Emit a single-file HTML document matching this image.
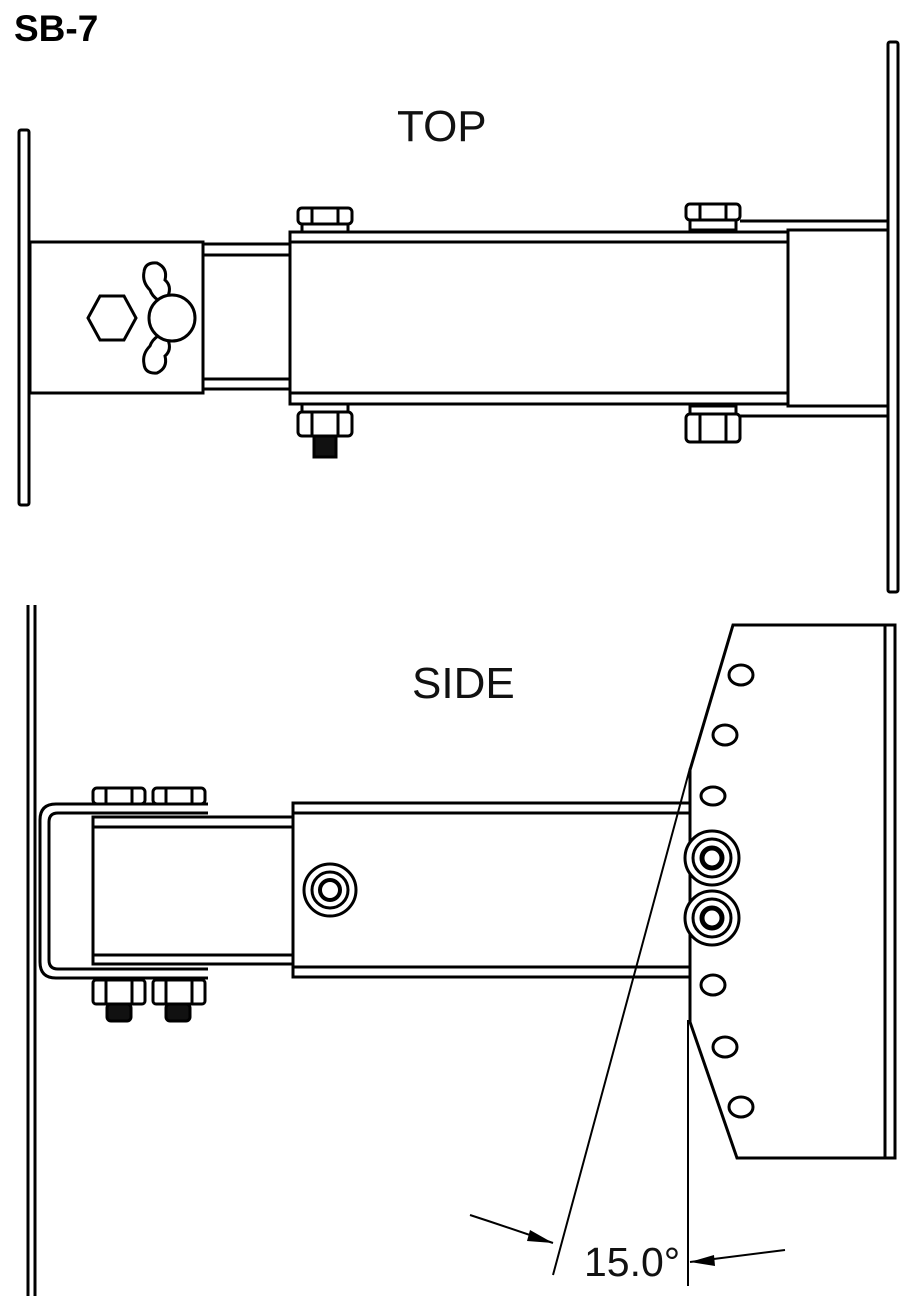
<!DOCTYPE html>
<html><head><meta charset="utf-8"><style>
html,body{margin:0;padding:0;background:#fff;width:921px;height:1296px;overflow:hidden}
svg{display:block}
</style></head><body>
<svg width="921" height="1296" viewBox="0 0 921 1296" xmlns="http://www.w3.org/2000/svg">
<g fill="#fff" stroke="#000" stroke-width="3">
<text x="14" y="41" font-family="Liberation Sans, sans-serif" font-weight="bold" font-size="37" fill="#000" stroke="none">SB-7</text>
<text x="397" y="141" font-family="Liberation Sans, sans-serif" font-size="44" fill="#111" stroke="none">TOP</text>
<text x="412" y="698" font-family="Liberation Sans, sans-serif" font-size="44" fill="#111" stroke="none">SIDE</text>

<!-- TOP VIEW -->
<rect x="19" y="130" width="10" height="375" rx="2"/>
<rect x="30" y="242" width="173" height="151"/>
<line x1="203" y1="244" x2="290" y2="244"/>
<line x1="203" y1="255" x2="290" y2="255"/>
<line x1="203" y1="379" x2="290" y2="379"/>
<line x1="203" y1="389" x2="290" y2="389"/>
<!-- hex & wing nut -->
<polygon points="88,318 100,296 124,296 136,318 124,340 100,340"/>
<path d="M168,296 Q172,286 165,280 Q168,268 157,263 Q145,262 144,272 Q142,282 150,290 Q152,296 158,300 Z"/>
<path d="M168,340 Q172,350 165,356 Q168,368 157,373 Q145,374 144,364 Q142,354 150,346 Q152,340 158,336 Z"/>
<circle cx="172" cy="318" r="23"/>
<!-- main tube -->
<rect x="290" y="232" width="498" height="172"/>
<line x1="290" y1="242" x2="788" y2="242"/>
<line x1="290" y1="393" x2="788" y2="393"/>
<rect x="788" y="230" width="100" height="176"/>
<rect x="888" y="42" width="10" height="550" rx="2"/>
<line x1="740" y1="221" x2="888" y2="221"/>
<line x1="740" y1="416" x2="888" y2="416"/>
<!-- bolts top -->
<rect x="298" y="208" width="54" height="16" rx="4"/><line x1="312" y1="208" x2="312" y2="224"/><line x1="338" y1="208" x2="338" y2="224"/>
<rect x="302" y="224" width="46" height="8"/>
<rect x="686" y="204" width="54" height="16" rx="4"/><line x1="700" y1="204" x2="700" y2="220"/><line x1="726" y1="204" x2="726" y2="220"/>
<rect x="690" y="220" width="46" height="10"/>
<rect x="302" y="404" width="46" height="8"/>
<rect x="298" y="412" width="54" height="24" rx="4"/><line x1="312" y1="412" x2="312" y2="436"/><line x1="338" y1="412" x2="338" y2="436"/>
<rect x="314" y="436" width="22" height="21" fill="#111"/>
<rect x="690" y="406" width="46" height="8"/>
<rect x="686" y="414" width="54" height="28" rx="4"/><line x1="700" y1="414" x2="700" y2="442"/><line x1="726" y1="414" x2="726" y2="442"/>

<!-- SIDE VIEW -->
<line x1="28" y1="605" x2="28" y2="1296"/>
<line x1="35" y1="605" x2="35" y2="1296"/>
<path d="M208,804 L56,804 Q40,804 40,820 L40,962 Q40,978 56,978 L208,978" fill="none"/>
<path d="M208,813 L58,813 Q49,813 49,822 L49,960 Q49,969 58,969 L208,969" fill="none"/>
<rect x="93" y="817" width="200" height="147"/>
<line x1="93" y1="827" x2="293" y2="827"/>
<line x1="93" y1="955" x2="293" y2="955"/>
<rect x="293" y="803" width="397" height="174"/>
<line x1="293" y1="813" x2="690" y2="813"/>
<line x1="293" y1="967" x2="690" y2="967"/>
<circle cx="330" cy="890" r="26"/><circle cx="330" cy="890" r="18"/><circle cx="330" cy="890" r="10" stroke-width="4"/>
<!-- nuts -->
<rect x="93" y="788" width="52" height="16" rx="4"/><line x1="106" y1="788" x2="106" y2="804"/><line x1="132" y1="788" x2="132" y2="804"/>
<rect x="153" y="788" width="52" height="16" rx="4"/><line x1="166" y1="788" x2="166" y2="804"/><line x1="192" y1="788" x2="192" y2="804"/>
<rect x="93" y="980" width="52" height="24" rx="3"/><line x1="106" y1="980" x2="106" y2="1004"/><line x1="132" y1="980" x2="132" y2="1004"/>
<rect x="153" y="980" width="52" height="24" rx="3"/><line x1="166" y1="980" x2="166" y2="1004"/><line x1="192" y1="980" x2="192" y2="1004"/>
<rect x="107" y="1004" width="24" height="17" rx="4" fill="#111"/>
<rect x="166" y="1004" width="24" height="17" rx="4" fill="#111"/>
<!-- angled plate -->
<path d="M733,625 L895,625 L895,1158 L737,1158 L690,1022 L690,770 Z"/>
<line x1="885" y1="625" x2="885" y2="1158"/>
<ellipse cx="741" cy="675" rx="12" ry="10"/>
<ellipse cx="725" cy="735" rx="12" ry="10"/>
<ellipse cx="713" cy="796" rx="12" ry="9"/>
<circle cx="712" cy="858" r="27"/><circle cx="712" cy="858" r="19"/><circle cx="712" cy="858" r="10" stroke-width="5"/>
<circle cx="712" cy="918" r="27"/><circle cx="712" cy="918" r="19"/><circle cx="712" cy="918" r="10" stroke-width="5"/>
<ellipse cx="713" cy="985" rx="12" ry="10"/>
<ellipse cx="725" cy="1047" rx="12" ry="10"/>
<ellipse cx="741" cy="1107" rx="12" ry="10"/>
<!-- dimension -->
<line x1="688" y1="1020" x2="688" y2="1286" stroke-width="2"/>
<line x1="690" y1="768" x2="553" y2="1275" stroke-width="2"/>
<path d="M470,1215 Q510,1228 553,1243" fill="none" stroke-width="2"/>
<polygon points="553,1243 530,1230 527,1241" fill="#000" stroke="none"/>
<line x1="785" y1="1250" x2="690" y2="1262" stroke-width="2"/>
<polygon points="690,1262 714,1255 715,1266" fill="#000" stroke="none"/>
<text x="584" y="1276" font-family="Liberation Sans, sans-serif" font-size="41" fill="#111" stroke="none">15.0°</text>
</g>
</svg>
</body></html>
